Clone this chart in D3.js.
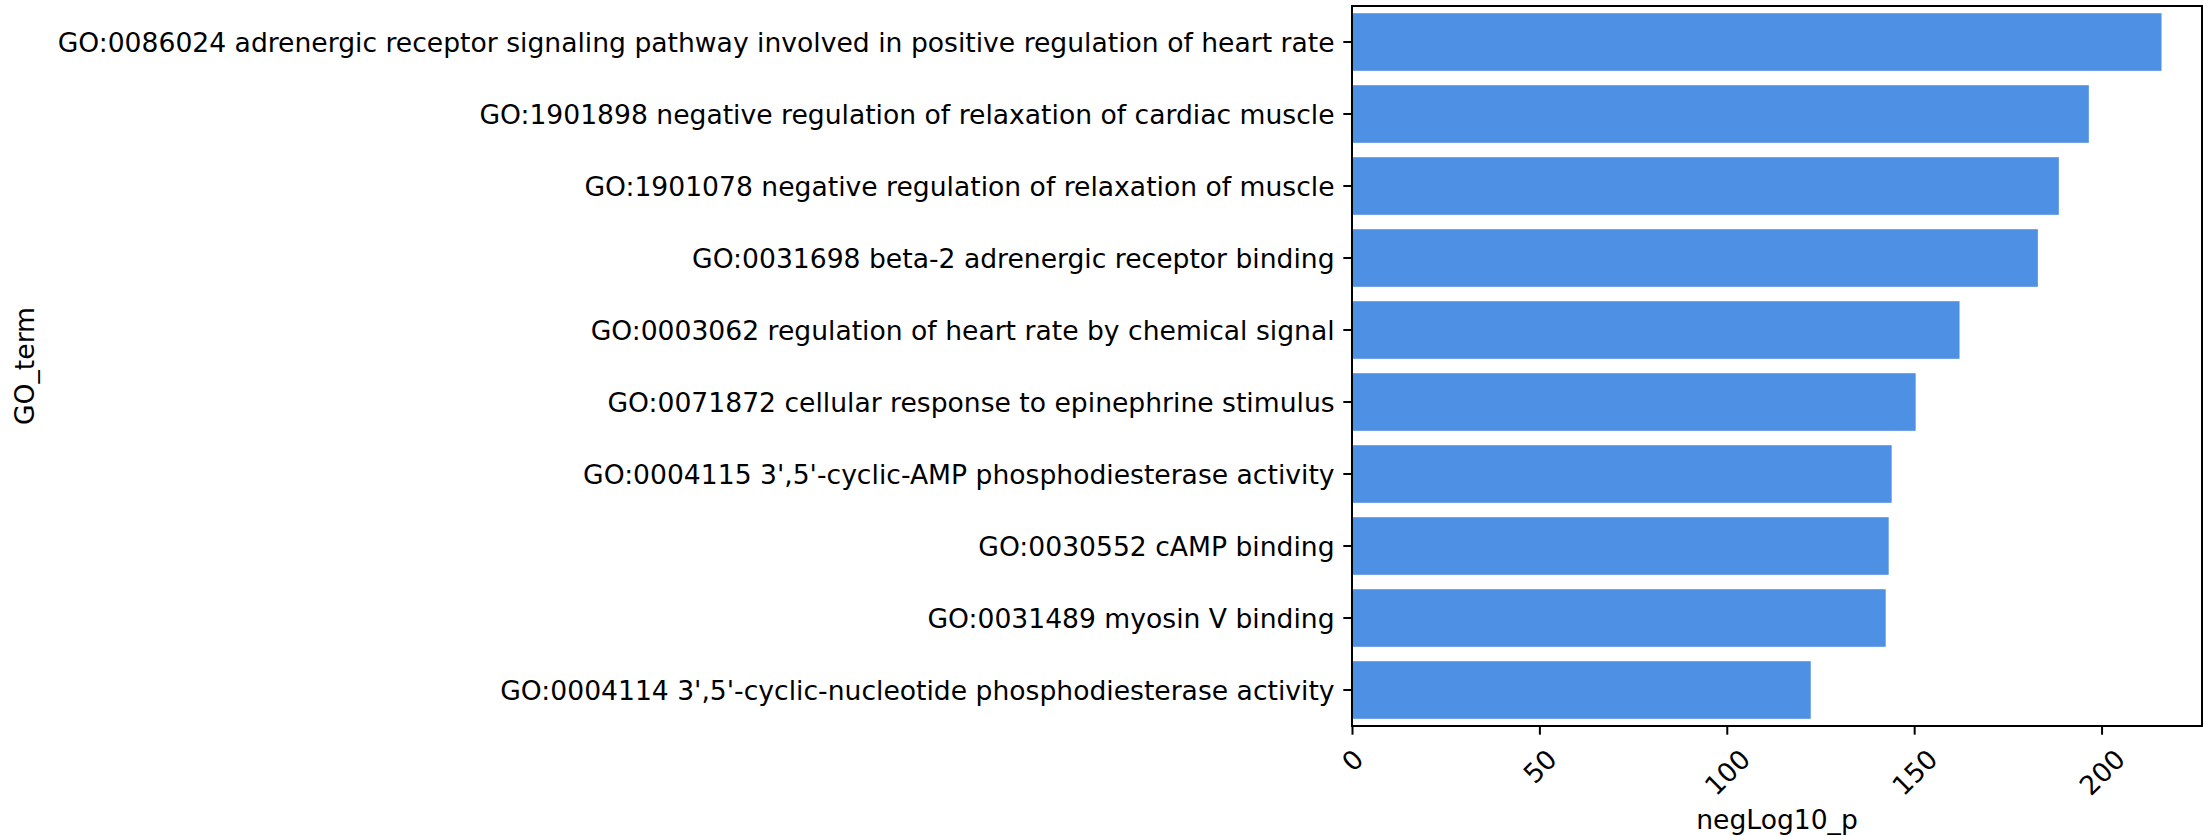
<!DOCTYPE html>
<html>
<head>
<meta charset="utf-8">
<script src="https://cdn.jsdelivr.net/npm/d3@7"></script>
<style>
  html, body { margin: 0; padding: 0; background: #fff; }
  svg text { font-family: "DejaVu Sans", sans-serif; fill: #000; }
</style>
</head>
<body>
<div id="chart"></div>
<script>
/* GO term enrichment bar chart */

const goTerms = [
  "GO:0086024 adrenergic receptor signaling pathway involved in positive regulation of heart rate",
  "GO:1901898 negative regulation of relaxation of cardiac muscle",
  "GO:1901078 negative regulation of relaxation of muscle",
  "GO:0031698 beta-2 adrenergic receptor binding",
  "GO:0003062 regulation of heart rate by chemical signal",
  "GO:0071872 cellular response to epinephrine stimulus",
  "GO:0004115 3',5'-cyclic-AMP phosphodiesterase activity",
  "GO:0030552 cAMP binding",
  "GO:0031489 myosin V binding",
  "GO:0004114 3',5'-cyclic-nucleotide phosphodiesterase activity"
];

const negLog10P = [216.0, 196.6, 188.6, 183.0, 162.1, 150.4, 144.0, 143.2, 142.4, 122.4];

const xTicks = [0, 50, 100, 150, 200];

const xLabel = "negLog10_p";
const yLabel = "GO_term";

(() => {
  'use strict';

  const size = { width: 2203, height: 836 };
  const margin = { top: 6, right: 1, bottom: 110, left: 1352 };
  const width = size.width - margin.left - margin.right;
  const height = size.height - margin.top - margin.bottom;

  const fontSize = 26.6;
  const tickLen = 8.7;
  const tickPad = 8.7;

  const rows = goTerms.map((t, i) => ({ term: t, value: negLog10P[i] }));

  const xScale = d3.scaleLinear()
    .domain([0, d3.max(negLog10P) * 1.05])
    .range([0, width]);

  const yScale = d3.scaleBand()
    .domain(goTerms)
    .range([0, height])
    .paddingInner(0.2)
    .paddingOuter(0.1);

  const svg = d3.select("#chart").append("svg")
    .attr("width", size.width)
    .attr("height", size.height);

  const graph = svg.append("g")
    .attr("transform", "translate(" + margin.left + "," + margin.top + ")");

  // bars
  graph.selectAll("rect.bar")
    .data(rows)
    .join("rect")
    .attr("class", "bar")
    .attr("x", xScale(0))
    .attr("y", d => yScale(d.term))
    .attr("width", d => xScale(d.value) - xScale(0))
    .attr("height", yScale.bandwidth())
    .attr("fill", "#4e90e3");

  // y axis
  const yAxisG = graph.append("g")
    .attr("class", "y axis")
    .call(d3.axisLeft(yScale).tickSize(tickLen).tickPadding(tickPad).tickSizeOuter(0));

  yAxisG.select(".domain").remove();
  yAxisG.selectAll(".tick line").attr("stroke", "#000").attr("stroke-width", 2);
  yAxisG.selectAll(".tick text")
    .attr("font-size", fontSize)
    .attr("font-family", "DejaVu Sans")
    .attr("dy", "0.38em");

  // x axis
  const xAxisG = graph.append("g")
    .attr("class", "x axis")
    .attr("transform", "translate(0," + height + ")")
    .call(d3.axisBottom(xScale).tickValues(xTicks).tickSize(tickLen).tickSizeOuter(0));

  xAxisG.select(".domain").remove();
  xAxisG.selectAll(".tick line").attr("stroke", "#000").attr("stroke-width", 2);

  // rotated tick labels, centred under the tick like matplotlib rotation=45
  const lineH = fontSize * 1.164;
  xAxisG.selectAll(".tick text")
    .attr("font-size", fontSize)
    .attr("font-family", "DejaVu Sans")
    .attr("y", null)
    .attr("dy", null)
    .attr("text-anchor", "middle")
    .attr("dominant-baseline", "central")
    .each(function () {
      const w = this.getComputedTextLength();
      const boxH = (w + lineH) / Math.SQRT2;
      const cy = tickLen + tickPad + boxH / 2;
      d3.select(this).attr("transform", "translate(0," + cy + ") rotate(-45)");
    });

  // frame (all four spines)
  graph.append("rect")
    .attr("x", 0)
    .attr("y", 0)
    .attr("width", width)
    .attr("height", height)
    .attr("fill", "none")
    .attr("stroke", "#000")
    .attr("stroke-width", 2);

  // axis labels
  svg.append("text")
    .attr("text-anchor", "middle")
    .attr("x", margin.left + width / 2)
    .attr("y", 829)
    .attr("font-size", fontSize)
    .text(xLabel);

  svg.append("text")
    .attr("text-anchor", "middle")
    .attr("transform", "translate(34," + (margin.top + height / 2) + ") rotate(-90)")
    .attr("font-size", fontSize)
    .text(yLabel);
})();
</script>
</body>
</html>
